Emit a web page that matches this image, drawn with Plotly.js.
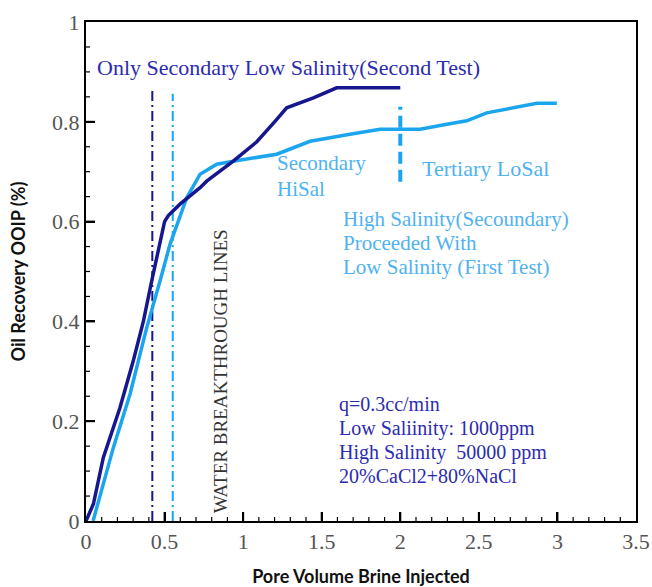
<!DOCTYPE html>
<html>
<head>
<meta charset="utf-8">
<script src="https://cdn.plot.ly/plotly-3.0.1.min.js"></script>
<style>html,body{margin:0;padding:0;background:#fff;}#chart{width:652px;height:587px;}</style>
</head>
<body>
<div id="chart"></div>
<script>
// Second test: only secondary low salinity
const secondX = [0, 0.047, 0.11, 0.216, 0.30, 0.365, 0.418, 0.471, 0.50, 0.524, 0.598, 0.726, 0.768, 0.937, 1.087, 1.2, 1.277, 1.447, 1.595, 2.0];
const secondY = [0, 0.034, 0.127, 0.227, 0.32, 0.40, 0.481, 0.561, 0.60, 0.612, 0.635, 0.668, 0.681, 0.721, 0.76, 0.80, 0.828, 0.848, 0.868, 0.868];
// First test: high salinity secondary followed by low salinity
const firstX = [0.045, 0.174, 0.28, 0.386, 0.471, 0.535, 0.641, 0.726, 0.832, 0.937, 1.214, 1.426, 1.68, 1.871, 2.0, 2.126, 2.296, 2.423, 2.55, 2.72, 2.87, 2.996];
const firstY = [0, 0.147, 0.254, 0.387, 0.481, 0.555, 0.648, 0.695, 0.715, 0.721, 0.735, 0.761, 0.775, 0.785, 0.785, 0.785, 0.795, 0.802, 0.818, 0.828, 0.837, 0.837];
// Water breakthrough lines
const breakSecondX = [0.422, 0.422];
const breakSecondY = [0, 0.866];
const breakFirstX = [0.552, 0.552];
const breakFirstY = [0, 0.856];
// Switch to tertiary low salinity
const switchX = [2.0, 2.0];
const switchY = [0.68, 0.83];
// Tick positions
const xMajorTicks = [0.5, 1, 1.5, 2, 2.5, 3];
const xMinorTicks = [0.1, 0.2, 0.3, 0.4, 0.6, 0.7, 0.8, 0.9, 1.1, 1.2, 1.3, 1.4, 1.6, 1.7, 1.8, 1.9, 2.1, 2.2, 2.3, 2.4, 2.6, 2.7, 2.8, 2.9, 3.1, 3.2, 3.3, 3.4];
const yMajorTicks = [0.2, 0.4, 0.6, 0.8];
const yMinorTicks = [0.05, 0.1, 0.15, 0.25, 0.3, 0.35, 0.45, 0.5, 0.55, 0.65, 0.7, 0.75, 0.85, 0.9, 0.95];

const navy = '#16168f';
const navyText = '#2b2bb0';
const sky = '#1aa5ee';
const skyText = '#4fb2f2';
const serif = 'Liberation Serif';

const traces = [
  {x: breakSecondX, y: breakSecondY, mode: 'lines', line: {color: navy, width: 2, dash: '10px,4px,2px,4px'}},
  {x: breakFirstX, y: breakFirstY, mode: 'lines', line: {color: sky, width: 2, dash: '10px,4px,2px,4px'}},
  {x: switchX, y: switchY, mode: 'lines', line: {color: sky, width: 4, dash: '12px,6px'}},
  {x: firstX, y: firstY, mode: 'lines', line: {color: sky, width: 3.5}},
  {x: secondX, y: secondY, mode: 'lines', line: {color: navy, width: 3.5}}
];

// tick marks as shapes (positions from the tick arrays, lengths in paper fraction)
const plotW = 550, plotH = 499;
function xTick(v, len, w) {
  return {type: 'line', layer: 'above', xref: 'x', yref: 'paper', x0: v, x1: v, y0: 0, y1: len / plotH,
          line: {color: '#000', width: w}};
}
function yTick(v, len, w) {
  return {type: 'line', layer: 'above', xref: 'paper', yref: 'y', x0: 0, x1: len / plotW, y0: v, y1: v,
          line: {color: '#000', width: w}};
}
const shapes = []
  .concat(xMajorTicks.map(v => xTick(v, 9, 2)))
  .concat(xMinorTicks.map(v => xTick(v, 4, 1.2)))
  .concat(yMajorTicks.map(v => yTick(v, 9, 2)))
  .concat(yMinorTicks.map(v => yTick(v, 4, 1.2)));

const layout = {
  width: 652, height: 587,
  margin: {l: 86, r: 16, t: 22, b: 66},
  showlegend: false,
  xaxis: {
    range: [0, 3.5], dtick: 0.5, showgrid: false, zeroline: false, layer: 'above traces',
    showline: true, linecolor: 'black', linewidth: 2, mirror: true,
    ticks: 'inside', ticklen: 9, tickwidth: 2, tickcolor: 'black',
    tickfont: {family: serif, size: 22, color: '#555'},
    title: {text: '<b>Pore Volume Brine Injected</b>', font: {family: 'Lato', size: 18, color: '#111'}, standoff: 20}
  },
  yaxis: {
    range: [0, 1], dtick: 0.2, showgrid: false, zeroline: false, layer: 'above traces',
    showline: true, linecolor: 'black', linewidth: 2, mirror: true,
    ticks: 'inside', ticklen: 9, tickwidth: 2, tickcolor: 'black',
    tickfont: {family: serif, size: 22, color: '#555'},
    title: {text: '<b>Oil Recovery OOIP (%)</b>', font: {family: 'Lato', size: 18, color: '#111'}, standoff: 22}
  },
  shapes: shapes,
  annotations: [
    {x: 0.057, y: 0.908, text: 'Only Secondary Low Salinity(Second Test)', color: navyText, size: 22},
    {x: 1.203, y: 0.717, text: 'Secondary', color: skyText, size: 21},
    {x: 1.203, y: 0.665, text: 'HiSal', color: skyText, size: 21},
    {x: 2.126, y: 0.707, text: 'Tertiary LoSal', color: skyText, size: 22},
    {x: 1.623, y: 0.605, text: 'High Salinity(Secoundary)', color: skyText, size: 21},
    {x: 1.623, y: 0.557, text: 'Proceeded With', color: skyText, size: 21},
    {x: 1.623, y: 0.509, text: 'Low Salinity (First Test)', color: skyText, size: 21},
    {x: 1.598, y: 0.234, text: 'q=0.3cc/min', color: navyText, size: 20},
    {x: 1.598, y: 0.186, text: 'Low Saliinity: 1000ppm', color: navyText, size: 20},
    {x: 1.598, y: 0.138, text: 'High Salinity  50000 ppm', color: navyText, size: 20},
    {x: 1.598, y: 0.090, text: '20%CaCl2+80%NaCl', color: navyText, size: 20}
  ].map(a => ({x: a.x, y: a.y, xref: 'x', yref: 'y', xanchor: 'left', yanchor: 'middle', showarrow: false,
      text: a.text.replace(/  /g, ' &nbsp;'), font: {family: serif, size: a.size, color: a.color}}))
   .concat([
    {x: 0.853, y: 0.30, xref: 'x', yref: 'y', xanchor: 'center', yanchor: 'middle', showarrow: false, textangle: -90,
     text: 'WATER BREAKTHROUGH LINES', font: {family: serif, size: 19, color: '#333'}}
  ])
};

Plotly.newPlot('chart', traces, layout, {displayModeBar: false, staticPlot: true});
</script>
</body>
</html>
